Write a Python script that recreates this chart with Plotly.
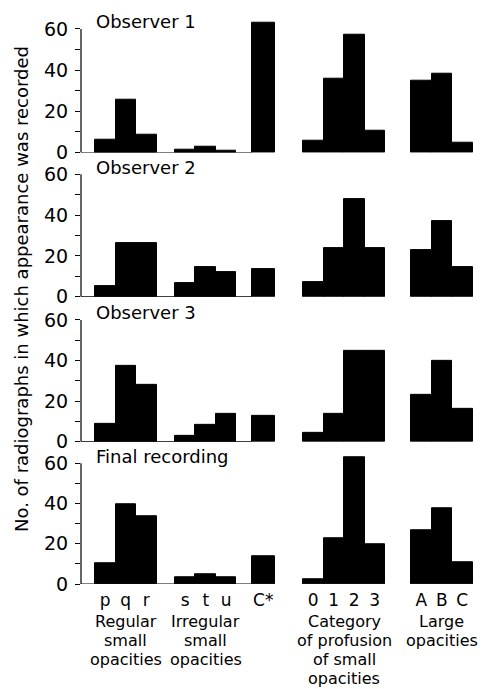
import plotly.graph_objects as go

# ---- data ----
categories = ["p", "q", "r", "s", "t", "u", "C*", "0", "1", "2", "3", "A", "B", "C"]
observer1 = [6, 25.5, 8.5, 1.3, 2.6, 1.0, 63, 5.5, 36, 57, 10.4, 35, 38.5, 5]
observer2 = [5.4, 26.5, 26.5, 6.9, 14.7, 12.1, 13.4, 7.4, 24, 47.7, 24, 22.7, 37, 14.7]
observer3 = [8.9, 37.6, 27.9, 3.0, 8.4, 13.6, 12.8, 4.4, 13.6, 44.7, 44.7, 22.9, 39.9, 16.1]
final_rec = [10.3, 39.8, 33.5, 3.3, 5.0, 3.6, 13.6, 2.3, 22.7, 62.8, 19.9, 26.7, 37.5, 10.8]
panel_titles = ["Observer 1", "Observer 2", "Observer 3", "Final recording"]
group_sizes = [3, 3, 1, 4, 3]
group_labels = [["Regular", "small", "opacities"],
                ["Irregular", "small", "opacities"],
                [],
                ["Category", "of profusion", "of small", "opacities"],
                ["Large", "opacities"]]
y_ticks = [0, 20, 40, 60]
y_axis_top = 60
y_view_top = 65

# ---- layout helpers (positions in bar-width units) ----
group_starts = [0.683, 4.585, 8.34, 10.83, 16.1]
bar_widths = []
positions = []
for g, (n, s) in enumerate(zip(group_sizes, group_starts)):
    w = 1.1 if n == 1 else 1.0
    for i in range(n):
        positions.append(s + w * (i + 0.5))
        bar_widths.append(w)

W, H = 493, 689
L, R = 81, 13
unit_px = 20.5
xrange_ = [0, (W - L - R) / unit_px]

# pixel rows for each panel: (pixel of value 60, pixel of value 0)
panel_px = [(29, 152.5), (174.3, 296.7), (320, 441.7), (463.3, 584)]
label_first_line_px = 621
label_line_step_px = 19

FONT = "DejaVu Sans"
series = [observer1, observer2, observer3, final_rec]

fig = go.Figure()
layout = dict(
    width=W, height=H,
    margin=dict(l=L, r=R, t=0, b=0, autoexpand=False),
    paper_bgcolor="white", plot_bgcolor="white",
    showlegend=False,
    font=dict(family=FONT, color="black"),
    bargap=0,
)
annotations = []
shapes = []
cstar_left = group_starts[2]

for k, vals in enumerate(series):
    idx = "" if k == 0 else str(k + 1)
    xa, ya = "x" + idx, "y" + idx
    fig.add_trace(go.Bar(
        x=positions, y=vals, width=bar_widths,
        marker=dict(color="black", line=dict(color="black", width=1)),
        xaxis=xa, yaxis=ya, hoverinfo="skip",
    ))
    top, bot = panel_px[k]
    top_view = bot - (bot - top) * y_view_top / y_axis_top
    layout["yaxis" + idx] = dict(
        domain=[1 - bot / H, 1 - top_view / H], range=[0, y_view_top], anchor=xa,
        tickvals=y_ticks, ticktext=[str(v) for v in y_ticks],
        ticks="outside", ticklen=5, tickwidth=1.2, tickcolor="black",
        minor=dict(tickvals=[10, 30, 50], ticks="outside", ticklen=5, tickwidth=1.2,
                   tickcolor="black", showgrid=False),
        showline=False, showgrid=False, zeroline=False, automargin=False,
        tickfont=dict(size=19, family=FONT), ticklabelstandoff=3,
    )
    xdict = dict(
        domain=[0, 1], range=xrange_, anchor=ya, automargin=False,
        showgrid=False, zeroline=False, showline=False, ticks="",
    )
    if k == 3:
        xdict.update(tickvals=positions, ticktext=categories,
                     tickfont=dict(size=17, family=FONT), ticklabelstandoff=4)
    else:
        xdict.update(showticklabels=False)
    layout["xaxis" + idx] = xdict
    # y axis line from 0 to 60
    shapes.append(dict(type="line", xref=xa + " domain", yref=ya, x0=0, x1=0,
                       y0=0, y1=y_axis_top, line=dict(color="black", width=1.2)))
    # baseline from axis to the C* bar
    shapes.append(dict(type="line", xref=xa, yref=ya, x0=0, x1=cstar_left, y0=0, y1=0,
                       line=dict(color="black", width=1.2), layer="below"))
    annotations.append(dict(
        text=panel_titles[k], xref=xa, yref=ya, x=group_starts[0] - 0.05, y=y_axis_top,
        xanchor="left", yanchor="middle", yshift=7, showarrow=False,
        font=dict(size=18, family=FONT),
    ))

# group descriptions under the bottom panel
gi = 0
for g, n in enumerate(group_sizes):
    centre = sum(positions[gi:gi + n]) / n
    gi += n
    for j, line in enumerate(group_labels[g]):
        ypx = label_first_line_px + j * label_line_step_px
        annotations.append(dict(
            text=line, xref="x4", yref="paper", x=centre, y=1 - ypx / H,
            xanchor="center", yanchor="middle", showarrow=False,
            font=dict(size=16, family=FONT),
        ))

# shared y title
annotations.append(dict(
    text="No. of radiographs in which appearance was recorded",
    xref="paper", yref="paper", x=(21 - L) / (W - L - R), y=1 - 289 / H,
    xanchor="center", yanchor="middle", textangle=-90, showarrow=False,
    font=dict(size=18, family=FONT),
))

layout["annotations"] = annotations
layout["shapes"] = shapes
fig.update_layout(**layout)
fig.write_html("out.html", config={"displayModeBar": False},
               post_script="document.body.style.margin='0';")
